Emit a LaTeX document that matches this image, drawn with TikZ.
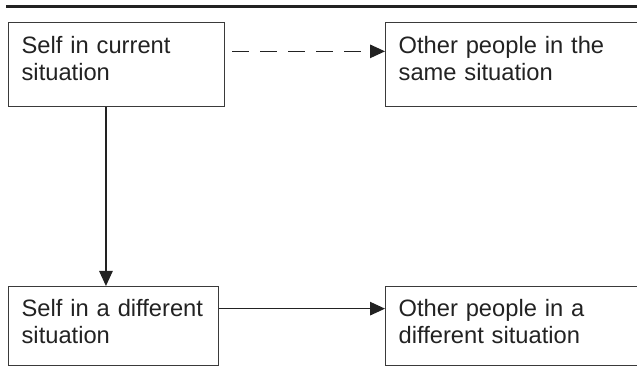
\documentclass[tikz,border=0pt]{standalone}
\usepackage{fontspec}
\setmainfont{Liberation Sans}
\usetikzlibrary{arrows.meta}
\definecolor{ink}{HTML}{222222}
\definecolor{boxline}{HTML}{3A3A3A}
\begin{document}
\begin{tikzpicture}[x=1pt,y=-1pt,
  box/.style={draw=boxline, line width=1.3pt, anchor=north west, align=left,
    inner xsep=13pt, inner ysep=0pt, text=ink,
    font=\fontsize{23.7}{27.3}\selectfont},
  conn/.style={draw=ink, line width=1.2pt, -{Triangle[length=15pt,width=13.5pt]}},
  dashconn/.style={conn, dash pattern=on 16.7pt off 11.3pt}
]
\useasboundingbox (0,0) rectangle (637,371);
\draw[ink, line width=2.8pt] (6,6.5) -- (645,6.5);
\node[box, text width=190pt, text height=30.7pt, text depth=53.3pt] (b1) at (8,22) {Self in current\\situation};
\node[box, text width=239pt, text height=30.7pt, text depth=53.3pt] (b2) at (385,22) {Other people in the\\same situation};
\node[box, text width=184pt, text height=29.5pt, text depth=49.5pt] (b3) at (8,286) {Self in a different\\situation};
\node[box, text width=239pt, text height=29.5pt, text depth=49.5pt] (b4) at (385,286) {Other people in a\\different situation};
\draw[dashconn, shorten <=7pt] ([yshift=13.3pt]b1.east) -- ([yshift=13.3pt]b2.west);
\draw[conn] ([xshift=-10.7pt]b1.south) -- ([xshift=-10.7pt]b1.south |- b3.north);
\draw[conn] ([yshift=17.5pt]b3.east) -- ([yshift=17.5pt]b4.west);
\end{tikzpicture}
\end{document}
